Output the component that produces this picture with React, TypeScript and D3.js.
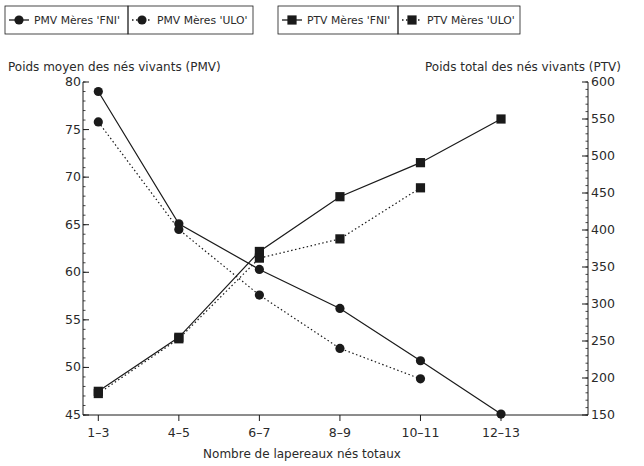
import React from "react";
import * as d3 from "d3";

const categories = ["1-3", "4-5", "6-7", "8-9", "10-11", "12-13"];
const pmvFNI = [79, 65.1, 60.3, 56.2, 50.7, 45.1];
const pmvULO = [75.8, 64.5, 57.6, 52.0, 48.8];
const ptvFNI = [182, 255, 371, 445, 491, 550];
const ptvULO = [179, 253, 362, 388, 457];
const leftTicks = [45, 50, 55, 60, 65, 70, 75, 80];
const rightTicks = [150, 200, 250, 300, 350, 400, 450, 500, 550, 600];

const W = 644, H = 466;
const M = { left: 83, right: 588, top: 82, bottom: 415 };
const FONT = "'DejaVu Sans', 'Liberation Sans', sans-serif";
const INK = "#1a1a1a";
const TXT = "#2a2a2a";

export default function App() {
  const x = d3.scaleLinear().domain([-0.19, 6.08]).range([M.left, M.right]);
  const yL = d3.scaleLinear().domain([45, 80]).range([M.bottom, M.top]);
  const yR = d3.scaleLinear().domain([150, 600]).range([M.bottom, M.top]);

  const line = (vals: number[], y: d3.ScaleLinear<number, number>) =>
    d3.line<number>().x((_, i) => x(i)).y((d) => y(d))(vals) || "";

  const minorL = d3.range(45, 80.01, 1);
  const minorR = d3.range(150, 600.01, 10);

  const series = [
    { vals: pmvFNI, y: yL, dash: undefined, shape: "circle" },
    { vals: pmvULO, y: yL, dash: "1.5 2.5", shape: "circle" },
    { vals: ptvFNI, y: yR, dash: undefined, shape: "square" },
    { vals: ptvULO, y: yR, dash: "1.5 2.5", shape: "square" },
  ];

  const legendItems = [
    { x0: 5, x1: 128, label: "PMV Mères 'FNI'", dash: undefined, shape: "circle" },
    { x0: 128, x1: 253, label: "PMV Mères 'ULO'", dash: "1.5 2.5", shape: "circle" },
    { x0: 278, x1: 398, label: "PTV Mères 'FNI'", dash: undefined, shape: "square" },
    { x0: 398, x1: 520, label: "PTV Mères 'ULO'", dash: "1.5 2.5", shape: "square" },
  ];

  const marker = (shape: string, cx: number, cy: number, key: any) =>
    shape === "circle" ? (
      <circle key={key} cx={cx} cy={cy} r={4.6} fill={INK} />
    ) : (
      <rect key={key} x={cx - 4.6} y={cy - 4.6} width={9.2} height={9.2} fill={INK} />
    );

  return (
    <svg width={W} height={H} style={{ position: "absolute", left: 0, top: 0, background: "#fff" }}
      fontFamily={FONT}>
      <rect x={0} y={0} width={W} height={H} fill="#fff" />
      {/* Legend */}
      {legendItems.map((it, i) => (
        <g key={"lg" + i}>
          <rect x={it.x0} y={6} width={it.x1 - it.x0} height={28} fill="none" stroke={INK} strokeWidth={0.8} />
          <line x1={it.x0 + 4} x2={it.x0 + 24} y1={20} y2={20} stroke={INK} strokeWidth={1.3}
            strokeDasharray={it.dash} />
          {marker(it.shape, it.x0 + 14, 20, "m")}
          <text x={it.x0 + 29} y={24} fontSize={10.8} fill={TXT}>{it.label}</text>
        </g>
      ))}
      {/* Axis titles */}
      <text x={8} y={71} fontSize={12} fill={TXT}>Poids moyen des nés vivants (PMV)</text>
      <text x={621} y={71} fontSize={12} fill={TXT} textAnchor="end">Poids total des nés vivants (PTV)</text>
      <text x={302} y={458} fontSize={12} fill={TXT} textAnchor="middle">Nombre de lapereaux nés totaux</text>

      {/* Axes lines */}
      <line x1={M.left} x2={M.left} y1={M.top} y2={M.bottom} stroke={INK} strokeWidth={1} />
      <line x1={M.right} x2={M.right} y1={M.top} y2={M.bottom} stroke={INK} strokeWidth={1} />
      <line x1={M.left} x2={M.right} y1={M.bottom} y2={M.bottom} stroke={INK} strokeWidth={1} />

      {/* Left ticks */}
      {minorL.map((v) => (
        <line key={"ml" + v} x1={M.left} x2={M.left + 2.5} y1={yL(v)} y2={yL(v)} stroke={INK} strokeWidth={0.8} />
      ))}
      {leftTicks.map((v) => (
        <g key={"tl" + v}>
          <line x1={M.left} x2={M.left + 6} y1={yL(v)} y2={yL(v)} stroke={INK} strokeWidth={1} />
          <text x={M.left - 2} y={yL(v) + 4} fontSize={12.5} fill={TXT} textAnchor="end">{v}</text>
        </g>
      ))}
      {/* Right ticks */}
      {minorR.map((v) => (
        <line key={"mr" + v} x1={M.right - 2.5} x2={M.right} y1={yR(v)} y2={yR(v)} stroke={INK} strokeWidth={0.8} />
      ))}
      {rightTicks.map((v) => (
        <g key={"tr" + v}>
          <line x1={M.right - 6} x2={M.right} y1={yR(v)} y2={yR(v)} stroke={INK} strokeWidth={1} />
          <text x={M.right + 3} y={yR(v) + 4} fontSize={12.5} fill={TXT}>{v}</text>
        </g>
      ))}
      {/* Bottom ticks */}
      {categories.map((c, i) => (
        <g key={"tb" + c}>
          <line x1={x(i)} x2={x(i)} y1={M.bottom} y2={M.bottom + 6} stroke={INK} strokeWidth={1} />
          <text x={x(i)} y={M.bottom + 22} fontSize={12.5} fill={TXT} textAnchor="middle">{c.replace("-", "\u2013")}</text>
        </g>
      ))}

      {/* Series */}
      {series.map((s, si) => (
        <g key={"s" + si}>
          <path d={line(s.vals, s.y)} fill="none" stroke={INK} strokeWidth={1.2} strokeDasharray={s.dash} />
          {s.vals.map((v, i) => marker(s.shape, x(i), s.y(v), "p" + i))}
        </g>
      ))}
    </svg>
  );
}
